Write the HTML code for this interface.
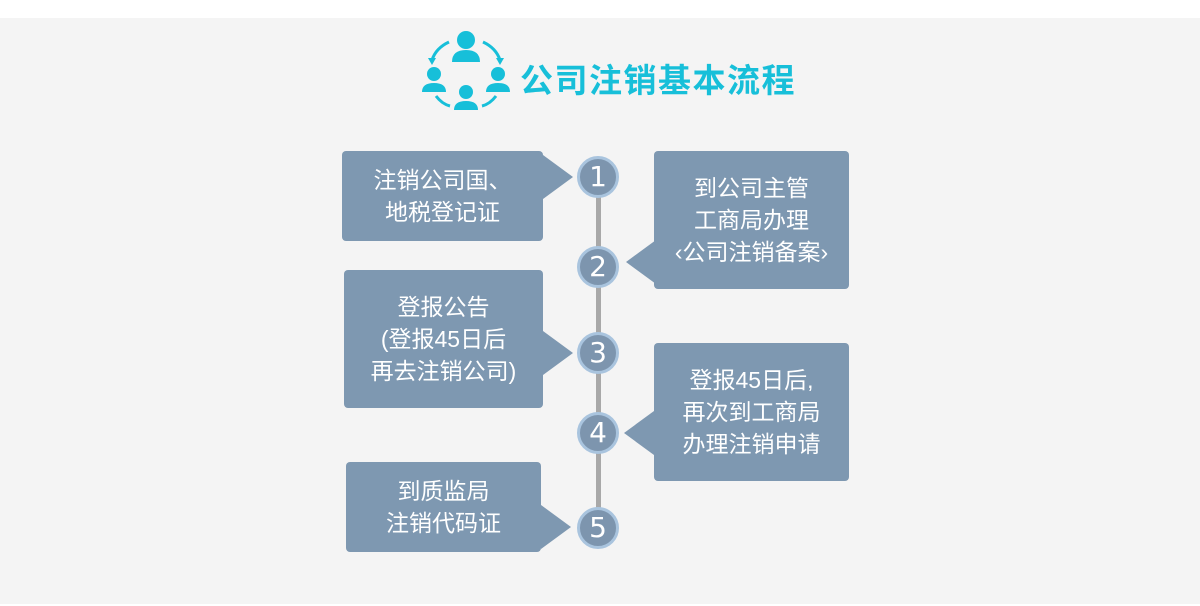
<!DOCTYPE html>
<html><head><meta charset="utf-8"><style>
body{margin:0;width:1200px;height:606px;background:#fff;position:relative;overflow:hidden;font-family:"Liberation Sans","Noto Sans CJK SC",sans-serif}
.panel{position:absolute;left:0;top:18px;width:1200px;height:586px;background:#f4f4f4}
.box{position:absolute;background:#7e98b1;border-radius:4px;color:#fff;font-size:23px;line-height:32px;text-align:center;display:flex;align-items:center;justify-content:center}
.tri{position:absolute;width:0;height:0;border-top:22px solid transparent;border-bottom:22px solid transparent}
.tl{border-left:30px solid #7e98b1}
.tr{border-right:30px solid #7e98b1}
.line{position:absolute;left:596px;top:180px;width:5px;height:345px;background:#a8a8a8}
.c{position:absolute;width:36px;height:36px;border-radius:50%;background:#7d95ae;border:3px solid #a9c4de;color:#fff;font-size:28px;line-height:36px;text-align:center;font-family:"DejaVu Sans",sans-serif}
.title{position:absolute;left:520px;top:57px;font-size:33px;font-weight:bold;color:#17bfd9;font-family:"Noto Sans CJK SC",sans-serif;line-height:42px;letter-spacing:1.5px}
</style></head><body>
<div class="panel"></div>
<svg style="position:absolute;left:420px;top:28px" width="92" height="86" viewBox="0 0 92 86" fill="#17bfd9" stroke="none">
<circle cx="46" cy="12" r="9"/><path d="M32 34 Q32 22 46 22 Q60 22 60 34 Z"/>
<circle cx="14" cy="46" r="7"/><path d="M2 64 Q2 55 14 55 Q26 55 26 64 Z"/>
<circle cx="78" cy="46" r="7"/><path d="M66 64 Q66 55 78 55 Q90 55 90 64 Z"/>
<circle cx="46" cy="64" r="7"/><path d="M34 82 Q34 73 46 73 Q58 73 58 82 Z"/>
<g fill="none" stroke="#17bfd9" stroke-width="3"><path d="M29 14 Q16 20 12 32"/><path d="M63 14 Q76 20 80 32"/><path d="M16 68 Q22 76 30 78"/><path d="M76 68 Q70 76 62 78"/></g>
<path d="M8 30 L16 30 L12 37Z"/><path d="M76 30 L84 30 L80 37Z"/>
</svg>
<div class="title">公司注销基本流程</div>
<div class="line"></div>
<div class="box" style="left:342px;top:151px;width:201px;height:90px">注销公司国、<br>地税登记证</div>
<div class="tri tl" style="left:543px;top:155px"></div>
<div class="box" style="left:654px;top:151px;width:195px;height:138px">到公司主管<br>工商局办理<br>‹公司注销备案›</div>
<div class="tri tr" style="left:626px;top:240px"></div>
<div class="box" style="left:344px;top:270px;width:199px;height:138px">登报公告<br>(登报45日后<br>再去注销公司)</div>
<div class="tri tl" style="left:543px;top:331px"></div>
<div class="box" style="left:654px;top:343px;width:195px;height:138px">登报45日后,<br>再次到工商局<br>办理注销申请</div>
<div class="tri tr" style="left:624px;top:411px"></div>
<div class="box" style="left:346px;top:462px;width:195px;height:90px">到质监局<br>注销代码证</div>
<div class="tri tl" style="left:541px;top:505px"></div>
<div class="c" style="left:577px;top:156px">1</div>
<div class="c" style="left:577px;top:246px">2</div>
<div class="c" style="left:577px;top:332px">3</div>
<div class="c" style="left:577px;top:412px">4</div>
<div class="c" style="left:577px;top:507px">5</div>
</body></html>
